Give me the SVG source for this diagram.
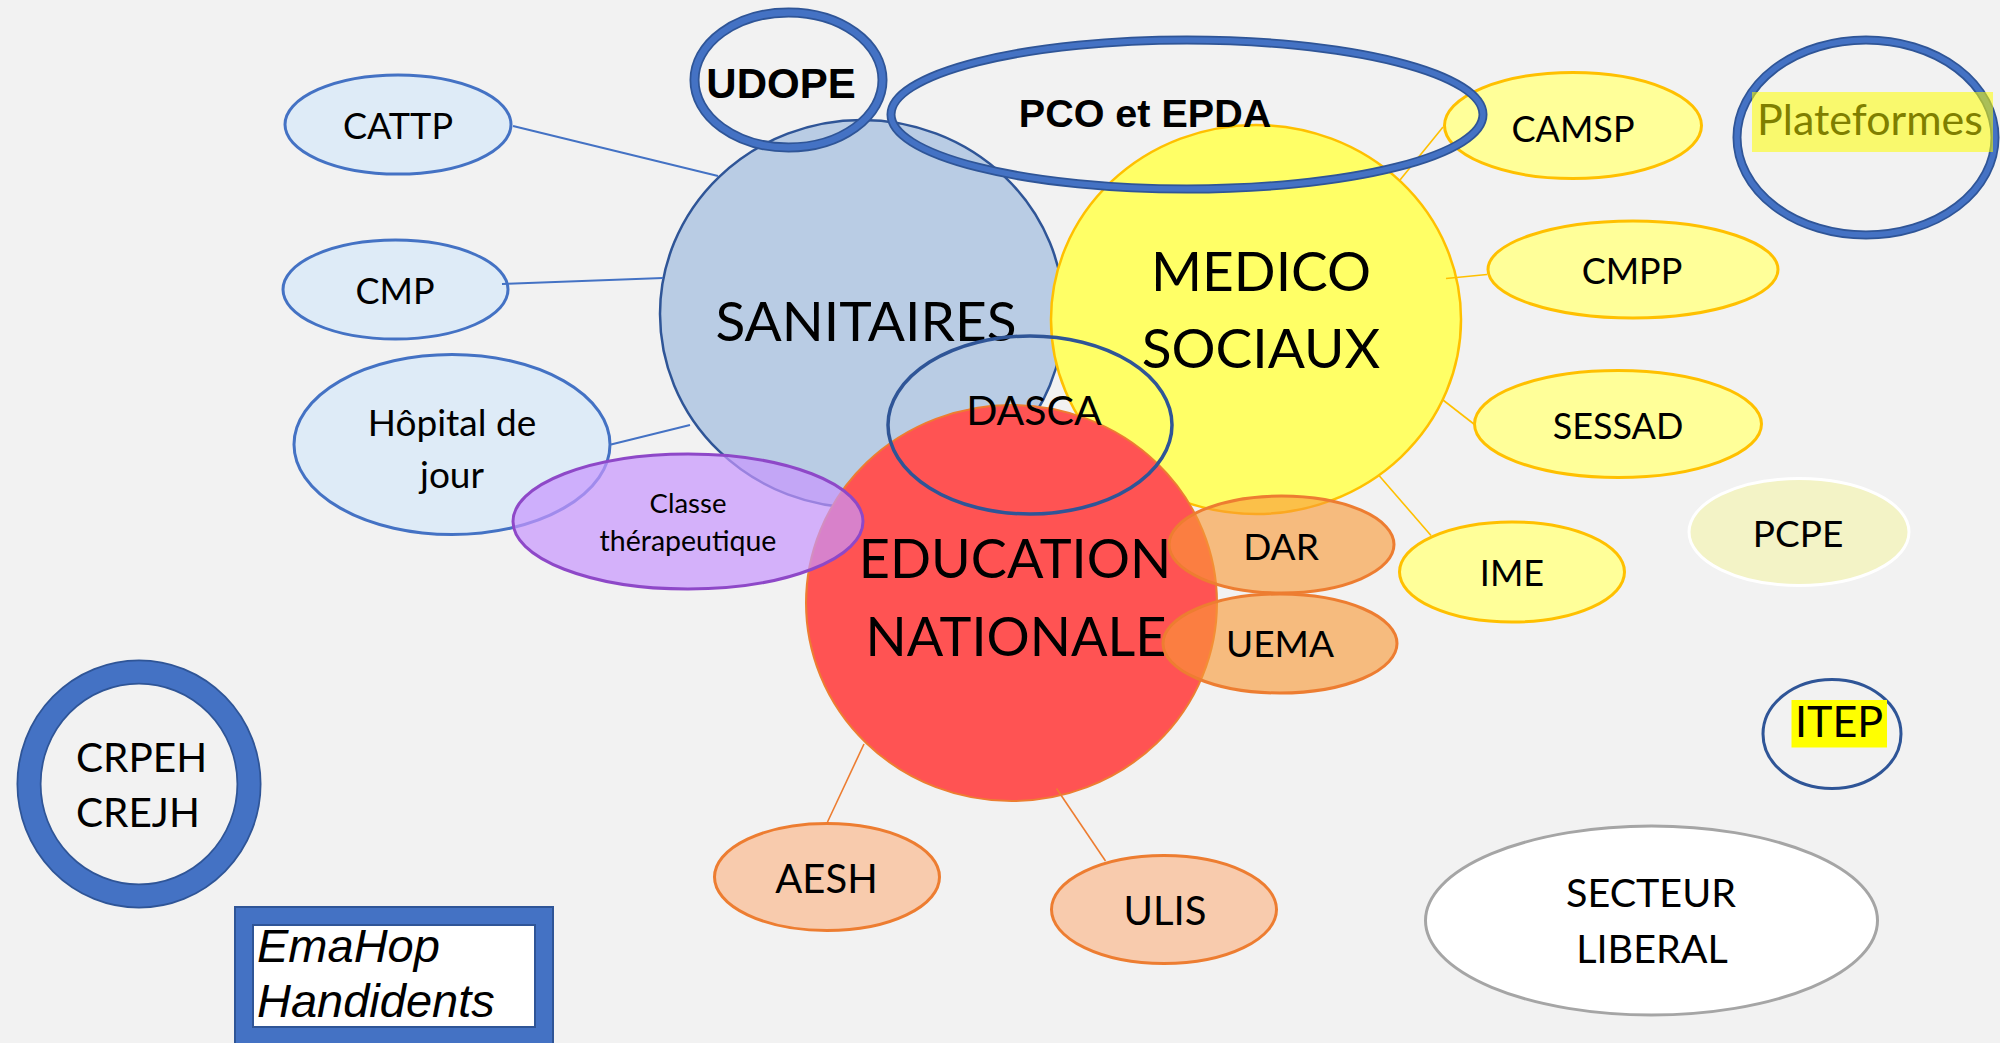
<svg xmlns="http://www.w3.org/2000/svg" width="2000" height="1043" viewBox="0 0 2000 1043">
<style>
.t{font-family:Lato,"Open Sans","DejaVu Sans",sans-serif;fill:#000;text-anchor:middle}
.b{font-family:"Liberation Sans",Arial,sans-serif;font-weight:bold;fill:#000;text-anchor:middle}
.sat-b{fill:#DEEBF7;stroke:#4472C4;stroke-width:3}
.sat-y{fill:#FFFF99;stroke:#FFC000;stroke-width:3}
.sat-o{fill:#F8CBAD;stroke:#ED7D31;stroke-width:3}
.sat-a{fill:#F89937;fill-opacity:0.62;stroke:#ED7D31;stroke-width:3}
.ring-o{fill:none;stroke:#2F5597}
.ring-i{fill:none;stroke:#4472C4}
.cb{stroke:#4472C4;stroke-width:2;fill:none}
.cy{stroke:#FFC000;stroke-width:1.6;fill:none}
.co{stroke:#ED7D31;stroke-width:1.6;fill:none}
</style>
<rect x="0" y="0" width="2000" height="1043" fill="#F2F2F2"/>

<g id="sanitaires">
<ellipse cx="862" cy="314" rx="202" ry="194" fill="#B9CCE4" stroke="#2F5597" stroke-width="2.5"/>
<text class="t" x="866" y="341" font-size="55">SANITAIRES</text>
</g>
<g id="medico-sociaux">
<ellipse cx="1256" cy="319.5" rx="205" ry="194.5" fill="#FFFF66" stroke="#FFC000" stroke-width="2.5"/>
<text class="t" x="1261" y="291" font-size="55">MEDICO</text>
<text class="t" x="1261" y="368" font-size="55">SOCIAUX</text>
</g>
<g id="education-nationale">
<ellipse cx="1011.5" cy="603" rx="205.5" ry="198" fill="#FF5353" stroke="#ED7D31" stroke-width="2"/>
<text class="t" x="1015" y="578" font-size="54">EDUCATION</text>
<text class="t" x="1016" y="656" font-size="54">NATIONALE</text>
</g>
<g id="cattp">
<ellipse class="sat-b" cx="398" cy="124.5" rx="113" ry="49.5"/>
<text class="t" x="398" y="138.5" font-size="36">CATTP</text>
</g>
<g id="cmp">
<ellipse class="sat-b" cx="395.5" cy="289.5" rx="112.5" ry="49.5"/>
<text class="t" x="395" y="303.5" font-size="36">CMP</text>
</g>
<g id="hopital-de-jour">
<ellipse class="sat-b" cx="452" cy="444.5" rx="158" ry="90"/>
<text class="t" x="452" y="435.5" font-size="37">Hôpital de</text>
<text class="t" x="452" y="487.5" font-size="37">jour</text>
</g>
<g id="classe-therapeutique">
<ellipse cx="688" cy="521.5" rx="175" ry="67.5" fill="#C896FD" fill-opacity="0.7" stroke="#8E48C8" stroke-width="3"/>
<text class="t" x="688" y="512.5" font-size="27.5">Classe</text>
<text class="t" x="688" y="551" font-size="28.5">thérapeutique</text>
</g>
<g id="dar">
<ellipse class="sat-a" cx="1281.5" cy="544.5" rx="112.5" ry="48.5"/>
<text class="t" x="1281" y="559.5" font-size="37">DAR</text>
</g>
<g id="uema">
<ellipse class="sat-a" cx="1280" cy="643.5" rx="117" ry="49.5"/>
<text class="t" x="1280" y="657" font-size="37">UEMA</text>
</g>
<g id="camsp">
<ellipse class="sat-y" cx="1573" cy="125.5" rx="128.5" ry="53"/>
<text class="t" x="1573" y="142" font-size="36">CAMSP</text>
</g>
<g id="cmpp">
<ellipse class="sat-y" cx="1633" cy="269.5" rx="145" ry="48.5"/>
<text class="t" x="1632" y="283.5" font-size="36">CMPP</text>
</g>
<g id="sessad">
<ellipse class="sat-y" cx="1618" cy="424" rx="143.5" ry="53.5"/>
<text class="t" x="1618" y="439" font-size="36">SESSAD</text>
</g>
<g id="ime">
<ellipse class="sat-y" cx="1512" cy="572" rx="112.5" ry="50"/>
<text class="t" x="1512" y="585.5" font-size="36">IME</text>
</g>
<g id="pcpe">
<ellipse cx="1799" cy="532" rx="110" ry="53.5" fill="#F3F3C6" stroke="#FFFFFF" stroke-width="3"/>
<text class="t" x="1798" y="547" font-size="37">PCPE</text>
</g>
<g id="aesh">
<ellipse class="sat-o" cx="827" cy="877" rx="112.5" ry="53.5"/>
<text class="t" x="826.5" y="892.5" font-size="40">AESH</text>
</g>
<g id="ulis">
<ellipse class="sat-o" cx="1164" cy="909.5" rx="112.5" ry="54"/>
<text class="t" x="1165" y="924.5" font-size="40">ULIS</text>
</g>

<g id="connectors">
<line class="cb" x1="513" y1="126" x2="718" y2="176"/>
<line class="cb" x1="502" y1="284" x2="663" y2="278"/>
<line class="cb" x1="611" y1="444.5" x2="690" y2="425"/>
<line class="cy" x1="1400" y1="180" x2="1443" y2="127"/>
<line class="cy" x1="1446" y1="278.5" x2="1487" y2="274.5"/>
<line class="cy" x1="1443" y1="400" x2="1474.5" y2="424.5"/>
<line class="cy" x1="1379" y1="475.5" x2="1431" y2="535.5"/>
<line class="co" x1="864" y1="744" x2="827.5" y2="822"/>
<line class="co" x1="1056.5" y1="788.5" x2="1105.5" y2="861"/>
</g>

<g id="dasca">
<ellipse cx="1030" cy="425" rx="142" ry="89" fill="none" stroke="#2F5597" stroke-width="3.5"/>
<text class="t" x="1034" y="425" font-size="41">DASCA</text>
</g>
<g id="udope">
<ellipse class="ring-o" cx="788.5" cy="80" rx="94" ry="67.5" stroke-width="10"/>
<ellipse class="ring-i" cx="788.5" cy="80" rx="94" ry="67.5" stroke-width="6.5"/>
<text class="b" x="781" y="98" font-size="42">UDOPE</text>
</g>
<g id="pco-epda">
<ellipse class="ring-o" cx="1187" cy="114.5" rx="296" ry="74.5" stroke-width="9"/>
<ellipse class="ring-i" cx="1187" cy="114.5" rx="296" ry="74.5" stroke-width="5.5"/>
<text class="b" x="1145" y="127" font-size="39.5">PCO et EPDA</text>
</g>
<g id="plateformes">
<ellipse class="ring-o" cx="1866" cy="137.5" rx="129" ry="97.5" stroke-width="9"/>
<ellipse class="ring-i" cx="1866" cy="137.5" rx="129" ry="97.5" stroke-width="5.5"/>
<rect x="1752" y="92" width="241" height="60" fill="#FFFF00" fill-opacity="0.55"/>
<text class="t" x="1870" y="134.5" font-size="43" style="fill:#7F7F00">Plateformes</text>
</g>
<g id="itep">
<ellipse cx="1832" cy="734" rx="69" ry="54.5" fill="none" stroke="#2F5597" stroke-width="3"/>
<rect x="1791.5" y="700" width="95.5" height="47.5" fill="#FFFF00"/>
<text class="t" x="1839" y="736.5" font-size="43">ITEP</text>
</g>
<g id="secteur-liberal">
<ellipse cx="1651.5" cy="920.5" rx="226" ry="94.5" fill="#FFFFFF" stroke="#A5A5A5" stroke-width="3"/>
<text class="t" x="1651" y="906.5" font-size="39.5">SECTEUR</text>
<text class="t" x="1652" y="962.5" font-size="39.5">LIBERAL</text>
</g>
<g id="crpeh-crejh">
<ellipse cx="139" cy="784" rx="110" ry="112" fill="none" stroke="#2F5597" stroke-width="25"/>
<ellipse cx="139" cy="784" rx="110" ry="112" fill="none" stroke="#4472C4" stroke-width="21.5"/>
<text class="t" x="76" y="771.5" font-size="40.5" style="text-anchor:start">CRPEH</text>
<text class="t" x="76" y="826.5" font-size="40.5" style="text-anchor:start">CREJH</text>
</g>
<g id="emahop-handidents">
<rect x="244" y="916" width="300" height="120" fill="#FFFFFF" stroke="#2F5597" stroke-width="20"/>
<rect x="244" y="916" width="300" height="120" fill="none" stroke="#4472C4" stroke-width="16"/>
<text x="257" y="961.5" font-family="'Liberation Sans',Arial,sans-serif" font-style="italic" font-size="47" fill="#000">EmaHop</text>
<text x="257" y="1016.5" font-family="'Liberation Sans',Arial,sans-serif" font-style="italic" font-size="47" fill="#000">Handidents</text>
</g>
</svg>
